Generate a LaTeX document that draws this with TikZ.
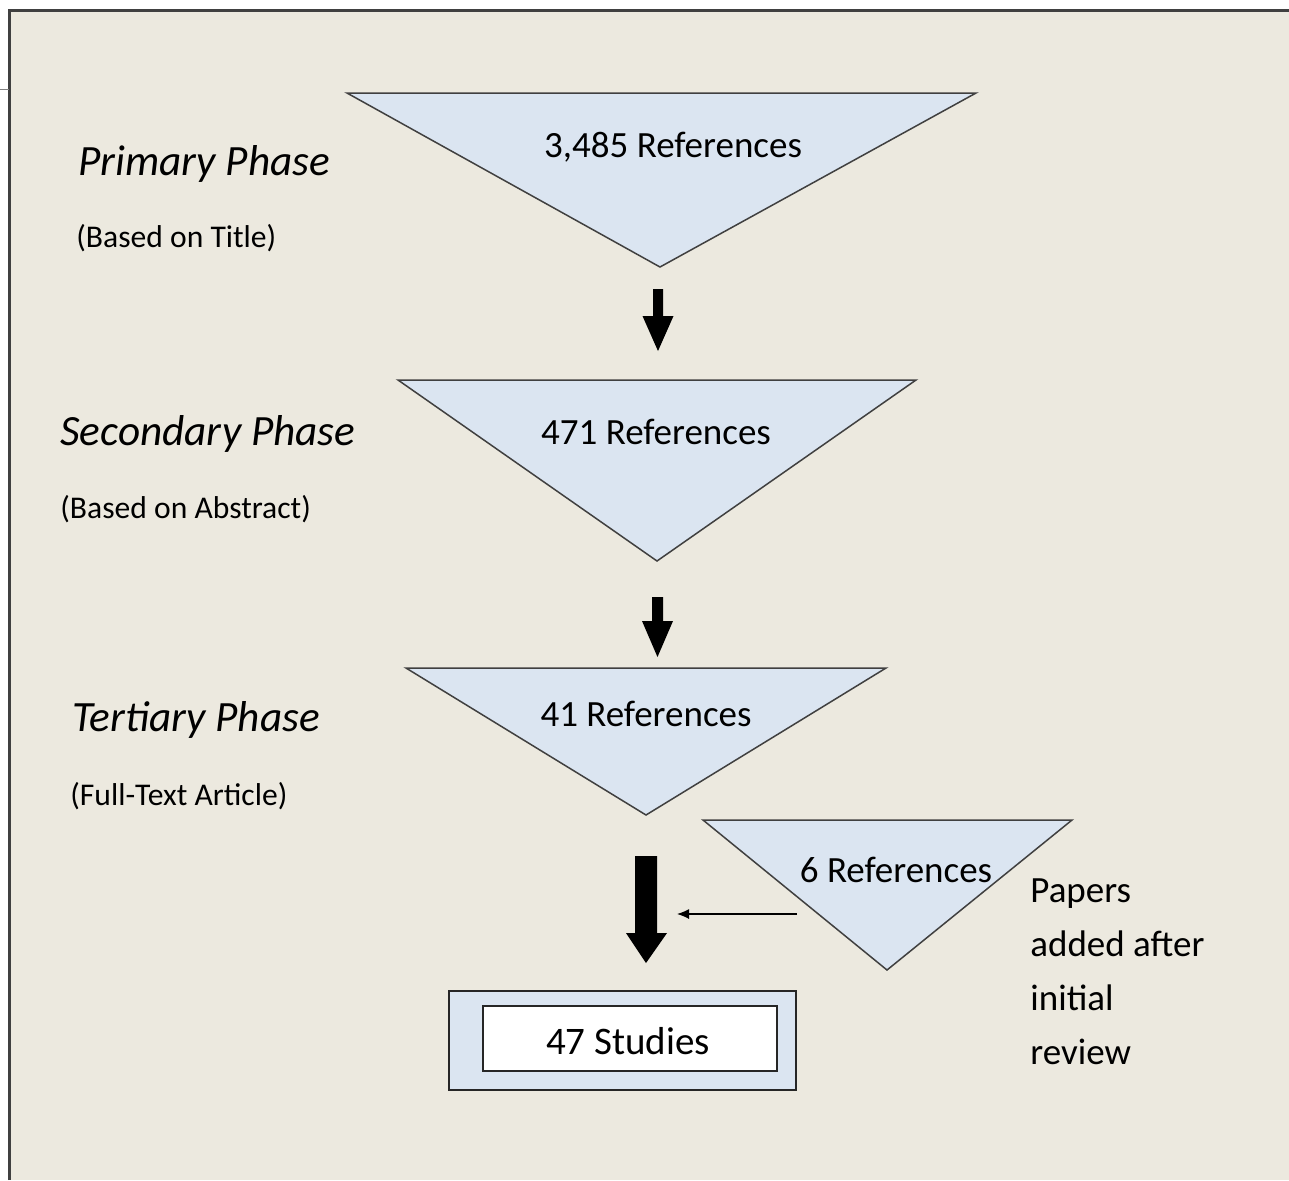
\documentclass[tikz,border=0pt]{standalone}
\usepackage{fontspec}
\setmainfont{Carlito}
\usetikzlibrary{arrows.meta}
\definecolor{bgframe}{RGB}{236,233,223}
\definecolor{tri}{RGB}{219,229,241}
\definecolor{edge}{RGB}{64,64,64}
\tikzset{
  tribox/.style={fill=tri, draw=edge, line width=0.75pt, line join=miter},
  phase/.style={anchor=base west, inner sep=0pt, font=\fontsize{21.6}{25}\selectfont\itshape},
  basis/.style={anchor=base west, inner sep=0pt, font=\fontsize{15.8}{18}\selectfont},
  count/.style={anchor=base, inner sep=0pt, font=\fontsize{18.5}{22}\selectfont},
  blockarrow/.style={fill=black, draw=none},
  thinarrow/.style={draw=black, line width=0.6pt, -{Latex[length=6pt,width=5pt]}},
}
\begin{document}
\begin{tikzpicture}[x=0.5pt,y=-0.5pt]
\useasboundingbox (0,0) rectangle (1289,1180);
\fill[white] (0,0) rectangle (1289,1180);
\fill[bgframe] (9,10) rectangle (1289,1180);
\draw[edge, line width=1.5pt] (9,1180) -- (9,10) -- (1289,10);
\draw[gray, line width=0.5pt] (0,89) -- (9,89);

% triangles
\coordinate (t1l) at (347,93);  \coordinate (t1r) at (976,93);  \coordinate (t1b) at (660,267);
\coordinate (t2l) at (398,380); \coordinate (t2r) at (916,380); \coordinate (t2b) at (657,561);
\coordinate (t3l) at (406,668); \coordinate (t3r) at (886,668); \coordinate (t3b) at (646,815);
\coordinate (t4l) at (703,820); \coordinate (t4r) at (1072,820); \coordinate (t4b) at (887,970);
\draw[tribox] (t1l) -- (t1r) -- (t1b) -- cycle;
\draw[tribox] (t2l) -- (t2r) -- (t2b) -- cycle;
\draw[tribox] (t3l) -- (t3r) -- (t3b) -- cycle;
\draw[tribox] (t4l) -- (t4r) -- (t4b) -- cycle;

\node[count] (c1) at (673,157) {3,485 References};
\node[count] (c2) at (656,444) {471 References};
\node[count] (c3) at (646,726) {41 References};
\node[count] (c4) at (896,882) {6 References};

% phase labels
\node[phase] (p1) at (78,175) {Primary Phase};
\node[basis] (b1) at (76,247) {(Based on Title)};
\node[phase] (p2) at (60,445) {Secondary Phase};
\node[basis] (b2) at (60,518) {(Based on Abstract)};
\node[phase] (p3) at (72,731) {Tertiary Phase};
\node[basis] (b3) at (70,805) {(Full-Text Article)};

% block arrows
\fill[blockarrow] (653,289) -- (663,289) -- (663,316) -- (673.5,316) -- (658,351) -- (642.5,316) -- (653,316) -- cycle;
\fill[blockarrow] (652,597) -- (663,597) -- (663,621) -- (673,621) -- (657.5,657) -- (642,621) -- (652,621) -- cycle;
\fill[blockarrow] (635,856) -- (657,856) -- (657,933) -- (667,933) -- (646,963) -- (626,933) -- (635,933) -- cycle;

% thin arrow
\coordinate (a4s) at (797,914);
\coordinate (a4e) at (677,914);
\draw[thinarrow] (a4s) -- (a4e);

% result box
\node[draw=black!85, line width=1pt, fill=tri, minimum width=173.5pt, minimum height=49.5pt, inner sep=0pt] (outer) at (622.5,1040.5) {};
\node[draw=black!85, line width=1pt, fill=white, minimum width=147pt, minimum height=32.5pt, inner sep=0pt] (inner) at (630,1038.5) {};
\node[anchor=base, inner sep=0pt, font=\fontsize{19.5}{23}\selectfont] (studies) at (628,1054) {47 Studies};

% side note
\node[anchor=base west, inner sep=0pt, align=left, font=\fontsize{18.5}{27}\selectfont] (note) at (1030,1064)
  {Papers\\added after\\initial\\review};
\end{tikzpicture}
\end{document}
